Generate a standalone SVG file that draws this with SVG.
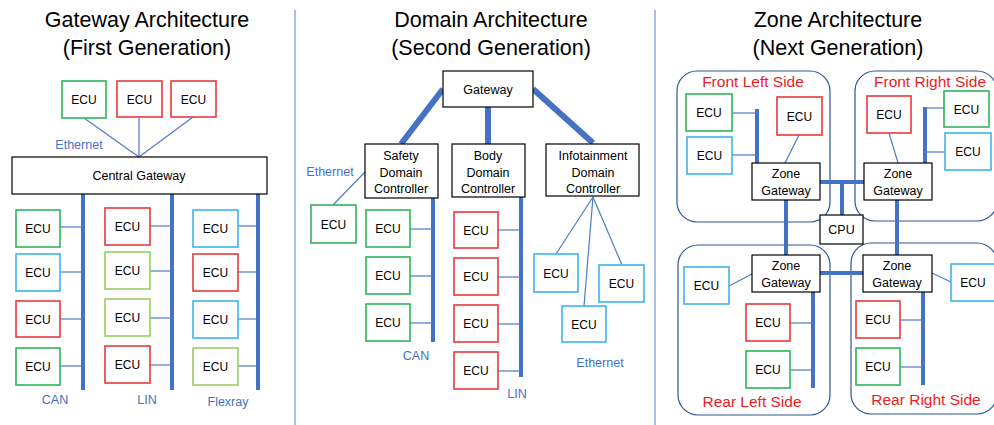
<svg xmlns="http://www.w3.org/2000/svg" width="994" height="425" viewBox="0 0 994 425">
<style>
text{font-family:"Liberation Sans",Arial,sans-serif;fill:#000}
.title{font-size:21.5px;text-anchor:middle}
.box{fill:#fff;stroke:#000;stroke-width:1.2}
.ecu rect{fill:#fff;stroke-width:1.6}
.ecu text{font-size:12px;text-anchor:middle}
.g rect{stroke:#2fb45a}.r rect{stroke:#e8383d}.b rect{stroke:#3db4ea}.lg rect{stroke:#9ccc65}
.lbl{font-size:12.5px;text-anchor:middle}
.blue{fill:#4472c4}
.red{fill:#ee1c25;font-size:15.5px;text-anchor:middle}
.bus{stroke:#4472c4;stroke-width:4;fill:none}
.thick{stroke:#4472c4;stroke-width:6;fill:none}
.thin{stroke:#4e7bc9;stroke-width:1.2;fill:none}
.zone{fill:none;stroke:#2f5597;stroke-width:1.2}
.div{stroke:#8faadc;stroke-width:1.5}
</style>
<rect width="994" height="425" fill="#fff"/>
<line class="div" x1="295" y1="10" x2="295" y2="425"/>
<line class="div" x1="655" y1="10" x2="655" y2="425"/>
<text class="title" x="147" y="27">Gateway Architecture</text>
<text class="title" x="147" y="55">(First Generation)</text>
<text class="title" x="491" y="27">Domain Architecture</text>
<text class="title" x="491" y="55">(Second Generation)</text>
<text class="title" x="838" y="27">Zone Architecture</text>
<text class="title" x="838" y="55">(Next Generation)</text>

<g id="zones">
<rect class="zone" x="677" y="71" width="153" height="151" rx="20"/>
<rect class="zone" x="855" y="71" width="142" height="150" rx="20"/>
<rect class="zone" x="678" y="245" width="152" height="170" rx="20"/>
<rect class="zone" x="851" y="243" width="146" height="171" rx="20"/>
<text class="red" x="753" y="87">Front Left Side</text>
<text class="red" x="930" y="87">Front Right Side</text>
<text class="red" x="752" y="407">Rear Left Side</text>
<text class="red" x="926" y="405">Rear Right Side</text>
</g>

<g id="connectors">
<line class="thin" x1="84" y1="118" x2="139" y2="157"/>
<line class="thin" x1="139" y1="117" x2="139" y2="157"/>
<line class="thin" x1="193" y1="117" x2="139" y2="157"/>
<line class="bus" x1="83" y1="194" x2="83" y2="390"/>
<line class="bus" x1="172" y1="194" x2="172" y2="390"/>
<line class="bus" x1="258" y1="194" x2="258" y2="390"/>
<g class="thin">
<line x1="60" y1="227" x2="83" y2="227"/><line x1="60" y1="272" x2="83" y2="272"/><line x1="60" y1="319" x2="83" y2="319"/><line x1="60" y1="366" x2="83" y2="366"/>
<line x1="150" y1="226" x2="172" y2="226"/><line x1="150" y1="271" x2="172" y2="271"/><line x1="150" y1="318" x2="172" y2="318"/><line x1="150" y1="365" x2="172" y2="365"/>
<line x1="238" y1="226" x2="258" y2="226"/><line x1="238" y1="272" x2="258" y2="272"/><line x1="238" y1="319" x2="258" y2="319"/><line x1="238" y1="366" x2="258" y2="366"/>
</g>
<line class="thick" x1="443" y1="89" x2="401" y2="144"/>
<line class="thick" x1="488" y1="107" x2="488" y2="144"/>
<line class="thick" x1="533" y1="89" x2="593" y2="143"/>
<line class="thin" x1="365" y1="172" x2="333" y2="205"/>
<line class="bus" x1="433" y1="198" x2="433" y2="342"/>
<line class="bus" x1="521" y1="197" x2="521" y2="377"/>
<g class="thin">
<line x1="410" y1="229" x2="433" y2="229"/><line x1="410" y1="276" x2="433" y2="276"/><line x1="410" y1="323" x2="433" y2="323"/>
<line x1="498" y1="230" x2="521" y2="230"/><line x1="498" y1="277" x2="521" y2="277"/><line x1="498" y1="324" x2="521" y2="324"/><line x1="498" y1="371" x2="521" y2="371"/>
<line x1="593" y1="197" x2="556" y2="254"/><line x1="593" y1="197" x2="584" y2="306"/><line x1="593" y1="197" x2="622" y2="265"/>
</g>
<g class="bus">
<line x1="757" y1="109" x2="757" y2="163"/>
<line x1="925" y1="107" x2="925" y2="163"/>
<line x1="813" y1="292" x2="813" y2="388"/>
<line x1="923" y1="292" x2="923" y2="385"/>
<line x1="786" y1="200" x2="786" y2="255"/>
<line x1="897" y1="200" x2="897" y2="255"/>
<line x1="820" y1="182" x2="864" y2="182"/>
<line x1="842" y1="182" x2="842" y2="215"/>
<line x1="820" y1="273" x2="863" y2="273"/>
</g>
<g class="thin">
<line x1="732" y1="113" x2="757" y2="113"/><line x1="732" y1="155" x2="757" y2="155"/>
<line x1="799" y1="135" x2="785" y2="163"/>
<line x1="889" y1="133" x2="898" y2="163"/>
<line x1="925" y1="108" x2="944" y2="108"/><line x1="925" y1="152" x2="945" y2="152"/>
<line x1="729" y1="286" x2="752" y2="274"/>
<line x1="790" y1="323" x2="813" y2="323"/><line x1="790" y1="370" x2="813" y2="370"/>
<line x1="932" y1="273" x2="951" y2="282"/>
<line x1="900" y1="320" x2="923" y2="320"/><line x1="900" y1="367" x2="923" y2="367"/>
</g>
</g>

<g id="labels">
<text class="lbl blue" x="79" y="149">Ethernet</text>
<text class="lbl blue" x="55" y="404">CAN</text>
<text class="lbl blue" x="147" y="404">LIN</text>
<text class="lbl blue" x="228" y="406">Flexray</text>
<text class="lbl blue" x="330" y="176">Ethernet</text>
<text class="lbl blue" x="416" y="360">CAN</text>
<text class="lbl blue" x="517" y="398">LIN</text>
<text class="lbl blue" x="600" y="367">Ethernet</text>
</g>

<g id="central-gateway"><rect class="box" x="12" y="157" width="255" height="37"/><text class="lbl" x="139" y="180">Central Gateway</text></g>
<g id="gateway"><rect class="box" x="443" y="71" width="90" height="36"/><text class="lbl" x="488" y="94">Gateway</text></g>
<g id="safety-dc"><rect class="box" x="365" y="144" width="73" height="54"/><text class="lbl" x="401" y="159.5">Safety</text><text class="lbl" x="401" y="176.5">Domain</text><text class="lbl" x="401" y="192.5">Controller</text></g>
<g id="body-dc"><rect class="box" x="452" y="144" width="73" height="53"/><text class="lbl" x="488" y="159.5">Body</text><text class="lbl" x="488" y="176.5">Domain</text><text class="lbl" x="488" y="192.5">Controller</text></g>
<g id="info-dc"><rect class="box" x="546" y="144" width="93" height="52"/><text class="lbl" x="593" y="159.5">Infotainment</text><text class="lbl" x="593" y="176.5">Domain</text><text class="lbl" x="593" y="192.5">Controller</text></g>
<g id="zgw-fl"><rect class="box" x="752" y="163" width="68" height="37"/><text class="lbl" x="786" y="178">Zone</text><text class="lbl" x="786" y="195">Gateway</text></g>
<g id="zgw-fr"><rect class="box" x="864" y="163" width="68" height="37"/><text class="lbl" x="898" y="178">Zone</text><text class="lbl" x="898" y="195">Gateway</text></g>
<g id="zgw-rl"><rect class="box" x="752" y="255" width="68" height="37"/><text class="lbl" x="786" y="270">Zone</text><text class="lbl" x="786" y="287">Gateway</text></g>
<g id="zgw-rr"><rect class="box" x="863" y="255" width="69" height="37"/><text class="lbl" x="897" y="270">Zone</text><text class="lbl" x="897" y="287">Gateway</text></g>
<g id="cpu"><rect class="box" x="820" y="215" width="43" height="29"/><text class="lbl" x="841.5" y="234">CPU</text></g>

<g id="ecu-top1" class="ecu g"><rect x="62" y="81" width="44" height="37"/><text x="84" y="104">ECU</text></g>
<g id="ecu-top2" class="ecu r"><rect x="117" y="81" width="45" height="36"/><text x="139.5" y="103.5">ECU</text></g>
<g id="ecu-top3" class="ecu r"><rect x="171" y="81" width="45" height="36"/><text x="193.5" y="103.5">ECU</text></g>

<g id="ecu-c1" class="ecu g"><rect x="16" y="210" width="44" height="37"/><text x="38" y="233">ECU</text></g>
<g id="ecu-c2" class="ecu b"><rect x="16" y="254" width="44" height="37"/><text x="38" y="277">ECU</text></g>
<g id="ecu-c3" class="ecu r"><rect x="16" y="301" width="44" height="36"/><text x="38" y="323.5">ECU</text></g>
<g id="ecu-c4" class="ecu g"><rect x="16" y="348" width="44" height="37"/><text x="38" y="371">ECU</text></g>
<g id="ecu-l1" class="ecu r"><rect x="105" y="208" width="45" height="37"/><text x="127.5" y="231">ECU</text></g>
<g id="ecu-l2" class="ecu lg"><rect x="105" y="252" width="45" height="37"/><text x="127.5" y="275">ECU</text></g>
<g id="ecu-l3" class="ecu lg"><rect x="105" y="299" width="45" height="37"/><text x="127.5" y="322">ECU</text></g>
<g id="ecu-l4" class="ecu r"><rect x="105" y="346" width="45" height="37"/><text x="127.5" y="369">ECU</text></g>
<g id="ecu-f1" class="ecu b"><rect x="193" y="210" width="45" height="37"/><text x="215.5" y="233">ECU</text></g>
<g id="ecu-f2" class="ecu r"><rect x="193" y="254" width="45" height="37"/><text x="215.5" y="277">ECU</text></g>
<g id="ecu-f3" class="ecu b"><rect x="193" y="301" width="45" height="37"/><text x="215.5" y="324">ECU</text></g>
<g id="ecu-f4" class="ecu lg"><rect x="193" y="348" width="45" height="37"/><text x="215.5" y="371">ECU</text></g>

<g id="ecu-s0" class="ecu g"><rect x="311" y="205" width="45" height="38"/><text x="333.5" y="228.5">ECU</text></g>
<g id="ecu-s1" class="ecu g"><rect x="366" y="210" width="44" height="37"/><text x="388" y="233">ECU</text></g>
<g id="ecu-s2" class="ecu g"><rect x="366" y="257" width="44" height="37"/><text x="388" y="280">ECU</text></g>
<g id="ecu-s3" class="ecu g"><rect x="366" y="304" width="44" height="37"/><text x="388" y="327">ECU</text></g>
<g id="ecu-b1" class="ecu r"><rect x="454" y="212" width="44" height="36"/><text x="476" y="234.5">ECU</text></g>
<g id="ecu-b2" class="ecu r"><rect x="454" y="258" width="44" height="37"/><text x="476" y="281">ECU</text></g>
<g id="ecu-b3" class="ecu r"><rect x="454" y="305" width="44" height="37"/><text x="476" y="328">ECU</text></g>
<g id="ecu-b4" class="ecu r"><rect x="454" y="352" width="44" height="37"/><text x="476" y="375">ECU</text></g>
<g id="ecu-i1" class="ecu b"><rect x="534" y="254" width="44" height="38"/><text x="556" y="277.5">ECU</text></g>
<g id="ecu-i2" class="ecu b"><rect x="562" y="306" width="44" height="36"/><text x="584" y="328.5">ECU</text></g>
<g id="ecu-i3" class="ecu b"><rect x="599" y="265" width="45" height="37"/><text x="621.5" y="288">ECU</text></g>

<g id="ecu-fl1" class="ecu g"><rect x="686" y="94" width="46" height="37"/><text x="709" y="117">ECU</text></g>
<g id="ecu-fl2" class="ecu b"><rect x="687" y="137" width="45" height="37"/><text x="709.5" y="160">ECU</text></g>
<g id="ecu-fl3" class="ecu r"><rect x="777" y="97" width="45" height="38"/><text x="799.5" y="120.5">ECU</text></g>
<g id="ecu-fr1" class="ecu r"><rect x="867" y="96" width="44" height="37"/><text x="889" y="119">ECU</text></g>
<g id="ecu-fr2" class="ecu g"><rect x="944" y="91" width="45" height="36"/><text x="966.5" y="113.5">ECU</text></g>
<g id="ecu-fr3" class="ecu b"><rect x="945" y="133" width="46" height="37"/><text x="968" y="156">ECU</text></g>
<g id="ecu-rl1" class="ecu b"><rect x="684" y="267" width="45" height="37"/><text x="706.5" y="290">ECU</text></g>
<g id="ecu-rl2" class="ecu r"><rect x="746" y="304" width="44" height="37"/><text x="768" y="327">ECU</text></g>
<g id="ecu-rl3" class="ecu g"><rect x="746" y="351" width="44" height="37"/><text x="768" y="374">ECU</text></g>
<g id="ecu-rr1" class="ecu b"><rect x="951" y="264" width="46" height="37"/><text x="973" y="287">ECU</text></g>
<g id="ecu-rr2" class="ecu r"><rect x="856" y="301" width="44" height="37"/><text x="878" y="324">ECU</text></g>
<g id="ecu-rr3" class="ecu g"><rect x="856" y="348" width="44" height="37"/><text x="878" y="371">ECU</text></g>
</svg>
